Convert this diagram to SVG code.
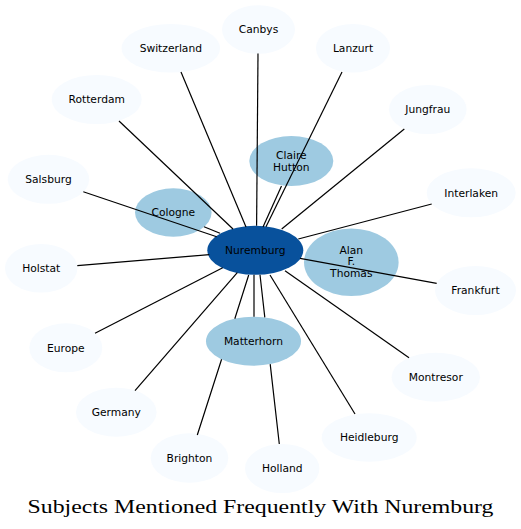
<svg xmlns="http://www.w3.org/2000/svg" width="521" height="529" viewBox="0 0 521 529">
<style>
.outer{fill:#f7fbff}
.mid{fill:#9ecae1}
.core{fill:#08519c}
.lbl{font-family:"DejaVu Sans",sans-serif;font-size:10.7px;fill:#000;text-anchor:middle}
.edges line,.edges path{stroke:#000;stroke-width:1.2;fill:none;stroke-linecap:butt}
.title{font-family:"Liberation Serif",serif;font-size:18px;fill:#000;text-anchor:middle}
</style>
<rect width="521" height="529" fill="#fff"/>
<g id="nodes">
<g id="n-canbys"><ellipse class="outer" cx="258.5" cy="29.5" rx="36.5" ry="24.3"/><text class="lbl" x="258.5" y="33.3">Canbys</text></g>
<g id="n-switzerland"><ellipse class="outer" cx="170.8" cy="48.3" rx="49.2" ry="24.3"/><text class="lbl" x="170.8" y="52.1">Switzerland</text></g>
<g id="n-lanzurt"><ellipse class="outer" cx="353" cy="48.3" rx="37" ry="24.3"/><text class="lbl" x="353" y="52.1">Lanzurt</text></g>
<g id="n-rotterdam"><ellipse class="outer" cx="96.7" cy="99.5" rx="45" ry="24.5"/><text class="lbl" x="96.7" y="103.3">Rotterdam</text></g>
<g id="n-jungfrau"><ellipse class="outer" cx="427.8" cy="109.5" rx="38.8" ry="24.5"/><text class="lbl" x="427.8" y="113.3">Jungfrau</text></g>
<g id="n-salsburg"><ellipse class="outer" cx="48.5" cy="179.3" rx="40.7" ry="24.5"/><text class="lbl" x="48.5" y="183.1">Salsburg</text></g>
<g id="n-interlaken"><ellipse class="outer" cx="471.2" cy="192.8" rx="44.5" ry="24.5"/><text class="lbl" x="471.2" y="196.6">Interlaken</text></g>
<g id="n-holstat"><ellipse class="outer" cx="41.2" cy="268.3" rx="36.2" ry="24.3"/><text class="lbl" x="41.2" y="272.1">Holstat</text></g>
<g id="n-frankfurt"><ellipse class="outer" cx="475.5" cy="290.5" rx="40.5" ry="24.5"/><text class="lbl" x="475.5" y="294.3">Frankfurt</text></g>
<g id="n-europe"><ellipse class="outer" cx="65.8" cy="347.8" rx="36.5" ry="24.5"/><text class="lbl" x="65.8" y="351.6">Europe</text></g>
<g id="n-montresor"><ellipse class="outer" cx="435.8" cy="377.2" rx="44.2" ry="24.5"/><text class="lbl" x="435.8" y="381">Montresor</text></g>
<g id="n-germany"><ellipse class="outer" cx="116.3" cy="412.2" rx="40.3" ry="24.5"/><text class="lbl" x="116.3" y="416">Germany</text></g>
<g id="n-heidleburg"><ellipse class="outer" cx="369.2" cy="437.5" rx="47.5" ry="24.2"/><text class="lbl" x="369.2" y="441.3">Heidleburg</text></g>
<g id="n-brighton"><ellipse class="outer" cx="189.5" cy="458" rx="38.8" ry="24.7"/><text class="lbl" x="189.5" y="461.8">Brighton</text></g>
<g id="n-holland"><ellipse class="outer" cx="282.2" cy="468.5" rx="37.2" ry="24.5"/><text class="lbl" x="282.2" y="472.3">Holland</text></g>
<g id="n-cologne"><ellipse class="mid" cx="173.3" cy="212.5" rx="38.3" ry="24.2"/><text class="lbl" x="173.3" y="216.3">Cologne</text></g>
<g id="n-claire"><ellipse class="mid" cx="291.3" cy="161" rx="42" ry="25"/><text class="lbl" x="291.3" y="159">Claire</text><text class="lbl" x="291.3" y="170.6">Hutton</text></g>
<g id="n-alan"><ellipse class="mid" cx="351.3" cy="262.2" rx="47.3" ry="33.8"/><text class="lbl" x="351.3" y="253.6">Alan</text><text class="lbl" x="351.3" y="265.3">F.</text><text class="lbl" x="351.3" y="277">Thomas</text></g>
<g id="n-matterhorn"><ellipse class="mid" cx="253.5" cy="341.2" rx="47.5" ry="24.5"/><text class="lbl" x="253.5" y="345">Matterhorn</text></g>
<g id="n-nuremburg"><ellipse class="core" cx="255.3" cy="250.3" rx="48" ry="24.5"/><text class="lbl" x="255.3" y="254">Nuremburg</text></g>
</g>
<g id="connectors" class="edges">
<line x1="256.6" y1="225.8" x2="258" y2="53.5"/>
<line x1="246" y1="227" x2="181" y2="72"/>
<line x1="266" y1="226.7" x2="342" y2="72"/>
<line x1="263" y1="227" x2="281.5" y2="186"/>
<line x1="233" y1="229" x2="119" y2="121"/>
<line x1="220" y1="233.3" x2="204" y2="226.7"/>
<line x1="216.7" y1="236.7" x2="83.3" y2="191.7"/>
<line x1="209.3" y1="254.7" x2="77.3" y2="265.7"/>
<line x1="222.7" y1="267.7" x2="95" y2="333.3"/>
<line x1="237.3" y1="272.7" x2="135" y2="390.7"/>
<path d="M248.7,275 L234.8,318.7 M221.6,359.3 L197.3,435"/>
<line x1="254" y1="274.8" x2="254" y2="316.7"/>
<path d="M260,274.8 L264.8,317.4 M270.2,364.1 L279.3,444"/>
<line x1="270" y1="275" x2="355" y2="414"/>
<line x1="285" y1="270.7" x2="409" y2="357.7"/>
<line x1="300" y1="258.3" x2="436.7" y2="283.3"/>
<line x1="298.3" y1="239" x2="431.7" y2="204"/>
<line x1="281.7" y1="229" x2="404.3" y2="129"/>
</g>
<text class="title" x="260.5" y="513" textLength="466" lengthAdjust="spacingAndGlyphs">Subjects Mentioned Frequently With Nuremburg</text>
</svg>
